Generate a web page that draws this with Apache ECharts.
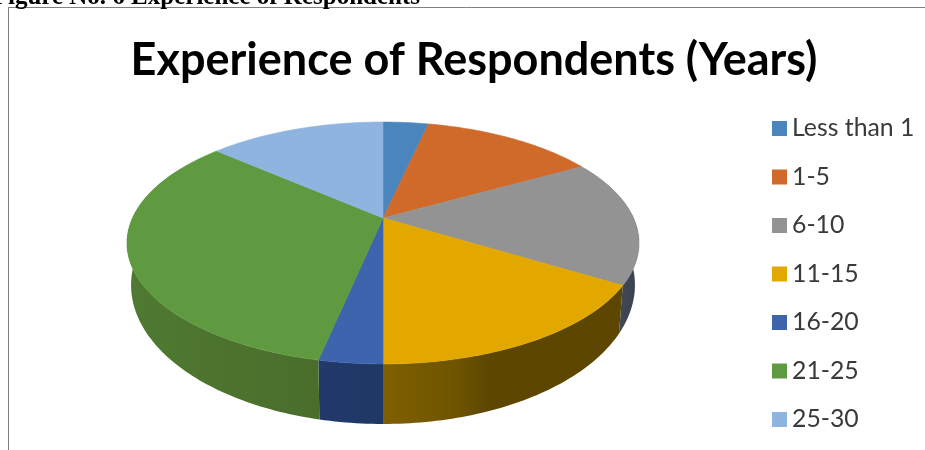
<!DOCTYPE html>
<html><head><meta charset="utf-8">
<style>html,body{margin:0;padding:0;background:#fff}#c{width:925px;height:450px}</style>
<script src="https://cdn.jsdelivr.net/npm/echarts@6/dist/echarts.min.js"></script>
</head><body><div id="c"></div>
<script>
const categories = ['Less than 1','1-5','6-10','11-15','16-20','21-25','25-30'];
const values = [3.5,13.4,16.8,16.3,3.3,33.1,13.6];
const topColors = ['#4a86bd','#d06a2b','#939393','#e3a800','#3d64ad','#5f9a40','#8fb4e0'];
const wallStops = {
  2:[[0,'#4b5361'],[1,'#3a4250']],
  3:[[0,'#7f6000'],[0.3,'#6f5400'],[0.45,'#5c4600'],[1,'#5c4600']],
  4:[[0,'#22396b'],[1,'#1f3864']],
  5:[[0,'#4f7a31'],[1,'#4a6d2c']]
};

const total = values.reduce((a,b)=>a+b,0);
const K = -0.2066;
const CX = 383;
const topDisc = {y0:218, a:250.5, b:115.8};
const baseDisc = {y0:256.2, a:246.5, b:133.1};
function proj(d, deg){
  const t = deg*Math.PI/180, X = Math.sin(t), Y = -Math.cos(t), w = 1+K*Y;
  return [CX + d.a*X/w, d.y0 + d.b*Y/w];
}
function arc(d, from, to){
  const pts = [], n = Math.max(2, Math.ceil(Math.abs(to-from)));
  for(let i=0;i<=n;i++) pts.push(proj(d, from+(to-from)*i/n));
  return pts;
}
function startAngle(i){
  let s = 0; for(let j=0;j<i;j++) s += values[j];
  return s/total*360;
}
function renderer(i){
  return function(params, api){
    const from = startAngle(i), to = from + api.value(0)/total*360;
    const children = [{
      type:'polygon', z2:10,
      shape:{points:[[CX,topDisc.y0]].concat(arc(topDisc,from,to))},
      style:{fill:topColors[i],stroke:topColors[i],lineWidth:0.6}
    }];
    const f = Math.max(from,62), g = Math.min(to,298);
    if(g>f && wallStops[i]){
      const pts = arc(topDisc,f,g).concat(arc(baseDisc,f,g).reverse());
      const grad = new echarts.graphic.LinearGradient(0,0,1,0,
        wallStops[i].map(s=>({offset:s[0],color:s[1]})));
      children.push({type:'polygon',z2:1,shape:{points:pts},style:{fill:grad}});
    }
    return {type:'group',children};
  };
}
const chart = echarts.init(document.getElementById('c'),null,{renderer:'canvas'});
chart.setOption({
  animation:false,
  color:topColors,
  title:{text:'Experience of Respondents (Years)',left:469,top:33,textAlign:'center',
    textStyle:{fontFamily:'Lato',fontWeight:'bold',fontSize:45,color:'#000'}},
  legend:{orient:'vertical',left:772,top:116,padding:0,itemWidth:15,itemHeight:15,itemGap:23.5,
    icon:'rect',data:categories,selectedMode:false,
    textStyle:{fontFamily:'Lato',fontSize:24.8,color:'#3a3a3a'}},
  graphic:[
    {type:'line',shape:{x1:8,y1:7.5,x2:925,y2:7.5},style:{stroke:'#808080',lineWidth:1}},
    {type:'line',shape:{x1:8.5,y1:7,x2:8.5,y2:450},style:{stroke:'#808080',lineWidth:1}},
    {type:'text',x:420,y:10,style:{text:'Figure No. 6 Experience of Respondents',align:'right',verticalAlign:'bottom',
      font:'bold 25px "Liberation Serif"',fill:'#000'}}
  ],
  series:categories.map((name,i)=>({
    type:'custom',name,coordinateSystem:'none',renderItem:renderer(i),
    itemStyle:{color:topColors[i]},data:[[values[i]]],silent:true
  }))
});
</script></body></html>
